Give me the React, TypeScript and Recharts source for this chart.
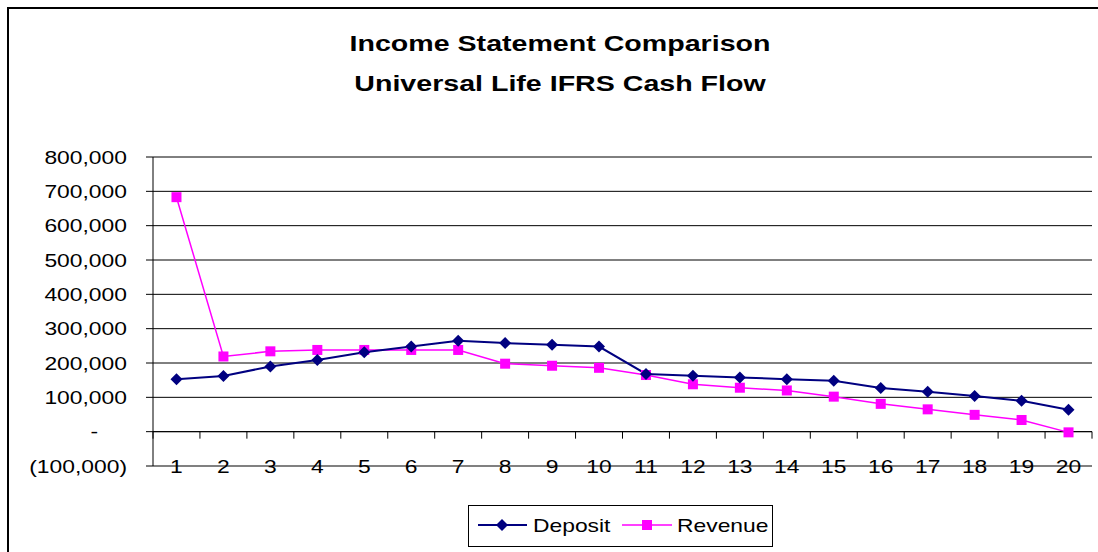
import React from 'react';
import { LineChart, Line, XAxis, YAxis, CartesianGrid, ReferenceLine, Legend } from 'recharts';

const periods = ['1', '2', '3', '4', '5', '6', '7', '8', '9', '10', '11', '12', '13', '14', '15', '16', '17', '18', '19', '20'];
const deposit = [153000, 162000, 190000, 209000, 231000, 248000, 265000, 258000, 253000, 248000, 168000, 163000, 158000, 153000, 148000, 127000, 116000, 104000, 90000, 64000];
const revenue = [683000, 219000, 234000, 238000, 238000, 238000, 238000, 198000, 192000, 186000, 165000, 138000, 128000, 120000, 102000, 81000, 65000, 49000, 34000, -2000];
const yTicks = [-100000, 0, 100000, 200000, 300000, 400000, 500000, 600000, 700000, 800000];

const data = periods.map((p, i) => ({ period: p, deposit: deposit[i], revenue: revenue[i] }));

const W = 1098;
const H = 552;
const PLOT_LEFT = 153;
const PLOT_RIGHT = 1092;
const PLOT_TOP = 157;
const PLOT_BOTTOM = 466;
const X_AXIS_H = 30;
const BAND = (PLOT_RIGHT - PLOT_LEFT) / periods.length;
const Y_MIN = yTicks[0];
const Y_MAX = yTicks[yTicks.length - 1];
const ZERO_Y = PLOT_BOTTOM - ((PLOT_BOTTOM - PLOT_TOP) * (0 - Y_MIN)) / (Y_MAX - Y_MIN);

// the reference text is stretched horizontally
const SX = 1.27;
const FONT = 'Arial, "Liberation Sans", sans-serif';
const NAVY = '#000080';
const MAGENTA = '#FF00FF';
const BORDER = '#808080';

const fmt = (v: number) => {
  if (v === 0) return '-';
  const s = Math.abs(v).toLocaleString('en-US');
  return v < 0 ? `(${s})` : s;
};

const XTick = (props: any) => {
  const { x, y, payload, index } = props;
  const left = x - BAND / 2;
  return (
    <g>
      <line x1={left} x2={left} y1={ZERO_Y} y2={ZERO_Y + 7} stroke="#000" />
      {index === periods.length - 1 && (
        <line x1={x + BAND / 2} x2={x + BAND / 2} y1={ZERO_Y} y2={ZERO_Y + 7} stroke="#000" />
      )}
      <text
        transform={`translate(${x},${y}) scale(${SX},1)`}
        textAnchor="middle"
        dominantBaseline="central"
        fontSize={18}
        fontFamily={FONT}
        fill="#000"
      >
        {payload.value}
      </text>
    </g>
  );
};

const YTick = (props: any) => {
  const { x, y, payload } = props;
  const v = payload.value as number;
  const ax = v === 0 ? x - 29 : x;
  return (
    <text
      transform={`translate(${ax},${y}) scale(${SX},1)`}
      textAnchor="end"
      dominantBaseline="central"
      fontSize={18}
      fontFamily={FONT}
      fill="#000"
    >
      {fmt(v)}
    </text>
  );
};

const Diamond = (props: any) => {
  const { cx, cy } = props;
  if (cx == null || cy == null) return null;
  return <path d={`M${cx},${cy - 6}L${cx + 6},${cy}L${cx},${cy + 6}L${cx - 6},${cy}Z`} fill={NAVY} />;
};

const Square = (props: any) => {
  const { cx, cy } = props;
  if (cx == null || cy == null) return null;
  return <rect x={cx - 5} y={cy - 5} width={10} height={10} fill={MAGENTA} />;
};

const LegendBox = () => (
  <svg width={305} height={42} style={{ display: 'block' }}>
    <rect x={0.5} y={0.5} width={304} height={41} fill="#fff" stroke="#000" />
    <line x1={10} x2={59} y1={20} y2={20} stroke={NAVY} strokeWidth={2} />
    <Diamond cx={34} cy={20} />
    <text
      transform={`translate(65,20) scale(${SX},1)`}
      dominantBaseline="central"
      fontSize={18}
      fontFamily={FONT}
      fill="#000"
    >
      Deposit
    </text>
    <line x1={154} x2={204} y1={20} y2={20} stroke={MAGENTA} strokeWidth={1.5} />
    <Square cx={179} cy={20} />
    <text
      transform={`translate(209,20) scale(${SX},1)`}
      dominantBaseline="central"
      fontSize={18}
      fontFamily={FONT}
      fill="#000"
    >
      Revenue
    </text>
  </svg>
);

export default function App() {
  return (
    <div style={{ position: 'absolute', left: 0, top: 0, width: W, height: H, background: '#fff', overflow: 'hidden' }}>
      <div
        style={{
          position: 'absolute',
          left: 7,
          top: 7,
          width: W,
          height: H,
          borderLeft: '2px solid #000',
          borderTop: '2px solid #000',
        }}
      />
      <svg width={W} height={H} style={{ position: 'absolute', left: 0, top: 0, pointerEvents: 'none' }}>
        <text
          transform={`translate(560,51) scale(1.3,1)`}
          textAnchor="middle"
          fontSize={22}
          fontWeight="bold"
          fontFamily={FONT}
          fill="#000"
        >
          Income Statement Comparison
        </text>
        <text
          transform={`translate(560,91) scale(1.3,1)`}
          textAnchor="middle"
          fontSize={22}
          fontWeight="bold"
          fontFamily={FONT}
          fill="#000"
        >
          Universal Life IFRS Cash Flow
        </text>
      </svg>
      <div style={{ position: 'absolute', left: 0, top: 0 }}>
        <LineChart
          width={W}
          height={H}
          data={data}
          margin={{ top: PLOT_TOP, right: W - PLOT_RIGHT, left: 0, bottom: H - PLOT_BOTTOM - X_AXIS_H }}
        >
          <CartesianGrid vertical={false} stroke="#000" />
          <ReferenceLine y={0} stroke="#000" />
          <XAxis
            dataKey="period"
            interval={0}
            height={X_AXIS_H}
            padding={{ left: BAND / 2, right: BAND / 2 }}
            axisLine={{ stroke: BORDER, strokeWidth: 1.5 }}
            tickLine={false}
            tickSize={0}
            tickMargin={0}
            tick={<XTick />}
          />
          {/* top and right edges of the plot frame */}
          <XAxis
            xAxisId="top"
            orientation="top"
            dataKey="period"
            height={0}
            padding={{ left: BAND / 2, right: BAND / 2 }}
            axisLine={{ stroke: BORDER, strokeWidth: 1.5 }}
            tickLine={false}
            tick={false}
          />
          <YAxis
            width={PLOT_LEFT}
            domain={[Y_MIN, Y_MAX]}
            ticks={yTicks}
            interval={0}
            tickSize={7}
            tickMargin={19}
            axisLine={{ stroke: '#000' }}
            tickLine={{ stroke: '#000' }}
            tick={<YTick />}
          />
          <YAxis
            yAxisId="right"
            orientation="right"
            width={0}
            domain={[Y_MIN, Y_MAX]}
            axisLine={{ stroke: BORDER, strokeWidth: 1.5 }}
            tickLine={false}
            tick={false}
          />
          <Line
            dataKey="revenue"
            name="Revenue"
            stroke={MAGENTA}
            strokeWidth={1.5}
            dot={<Square />}
            isAnimationActive={false}
          />
          <Line
            dataKey="deposit"
            name="Deposit"
            stroke={NAVY}
            strokeWidth={2}
            dot={<Diamond />}
            isAnimationActive={false}
          />
          <Legend
            layout="vertical"
            align="center"
            verticalAlign="middle"
            wrapperStyle={{ left: 468, top: 505, width: 305, height: 42 }}
            content={<LegendBox />}
          />
        </LineChart>
      </div>
    </div>
  );
}
